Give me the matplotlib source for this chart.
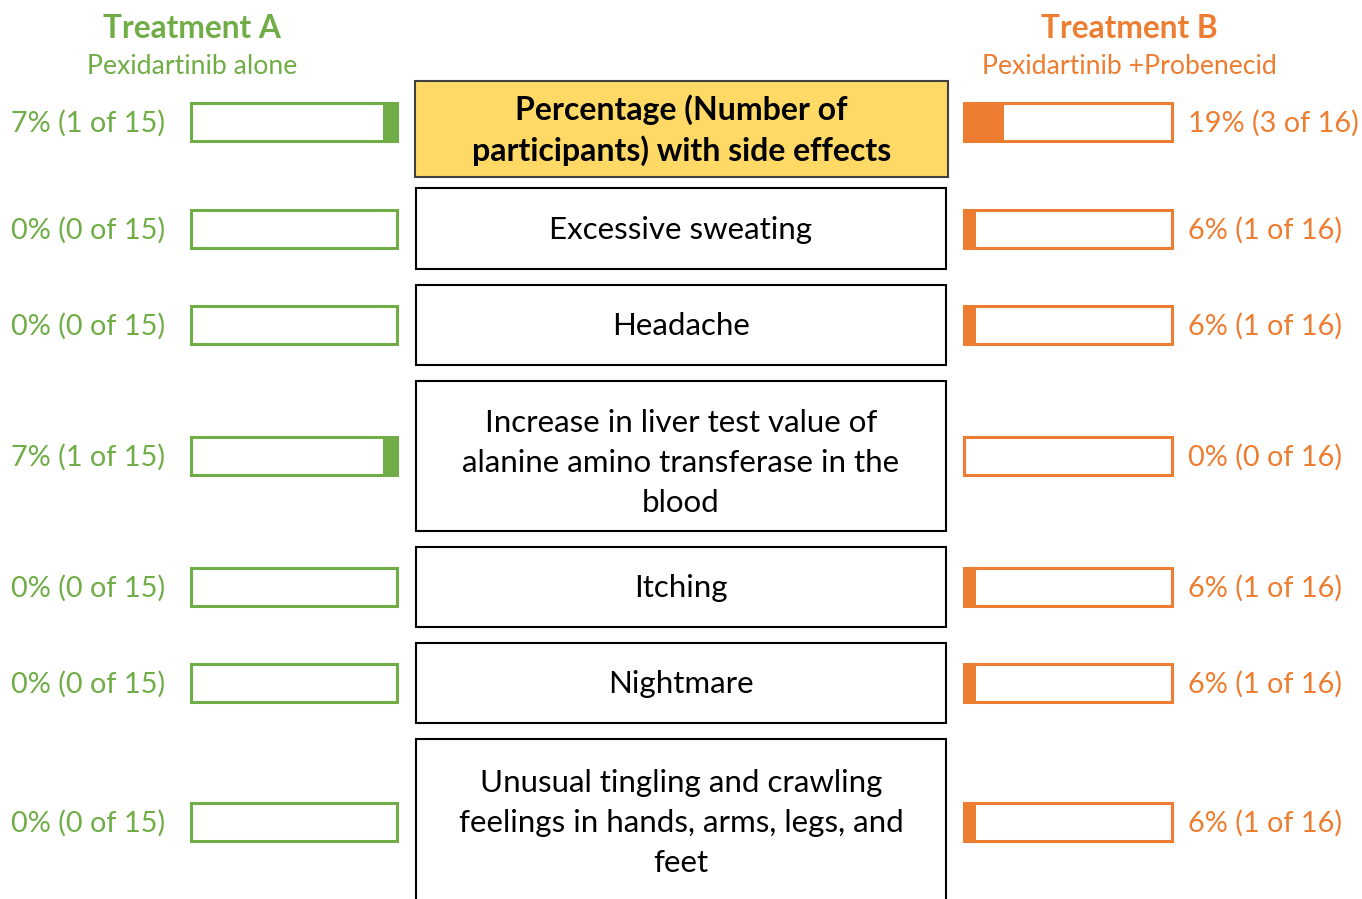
import matplotlib
matplotlib.use("Agg")
import matplotlib.pyplot as plt
from matplotlib.patches import Rectangle

plt.rcParams['font.family'] = ['Lato', 'DejaVu Sans']

# ---- data ----
categories = [
    "Percentage (Number of\nparticipants) with side effects",
    "Excessive sweating",
    "Headache",
    "Increase in liver test value of\nalanine amino transferase in the\nblood",
    "Itching",
    "Nightmare",
    "Unusual tingling and crawling\nfeelings in hands, arms, legs, and\nfeet",
]
a_pct = [7, 0, 0, 7, 0, 0, 0]
a_count = [1, 0, 0, 1, 0, 0, 0]
a_total = 15
b_pct = [19, 6, 6, 0, 6, 6, 6]
b_count = [3, 1, 1, 0, 1, 1, 1]
b_total = 16
a_title = "Treatment A"
a_sub = "Pexidartinib alone"
b_title = "Treatment B"
b_sub = "Pexidartinib +Probenecid"

# ---- layout (pixels) ----
W, H = 1362, 899
GREEN = "#70AD47"
ORANGE = "#ED7D31"
YELLOW = "#FFD966"
row_y = [122, 229, 325, 456, 587, 683, 822]
text_y = [130, 230, 326, 463, 588, 684, 823]
box_top = [81, 188, 285, 381, 547, 643, 739]
box_bot = [177, 269, 365, 531, 627, 723, 905]
FS_BODY = 22.5
FS_HEAD = 23
FS_LBL = 20.8
FS_TITLE = 22.8
FS_SUB = 19.2

fig = plt.figure(figsize=(W / 100, H / 100), dpi=100)
ax = fig.add_axes([0, 0, 1, 1])
ax.set_xlim(0, W)
ax.set_ylim(H, 0)
ax.axis("off")

# central category boxes
for i, cat in enumerate(categories):
    if i == 0:
        x0, x1 = 415, 948
        fc, ec, wt, fs, ls = YELLOW, "#404040", "bold", FS_HEAD, 1.38
    else:
        x0, x1 = 416, 946
        fc, ec, wt, fs, ls = "white", "black", "normal", FS_BODY, 1.53
    ax.add_patch(Rectangle((x0, box_top[i]), x1 - x0, box_bot[i] - box_top[i],
                           facecolor=fc, edgecolor=ec, lw=1.5, clip_on=False))
    ax.text((x0 + x1) / 2, text_y[i], cat, ha="center", va="center", fontsize=fs,
            fontweight=wt, color="black", linespacing=ls)

# headings
ax.text(192, 29, a_title, ha="center", va="center", fontsize=FS_TITLE, fontweight="bold", color=GREEN)
ax.text(192, 67, a_sub, ha="center", va="center", fontsize=FS_SUB, color=GREEN)
ax.text(1129, 29, b_title, ha="center", va="center", fontsize=FS_TITLE, fontweight="bold", color=ORANGE)
ax.text(1129, 67, b_sub, ha="center", va="center", fontsize=FS_SUB, color=ORANGE)

# value labels
for i in range(len(categories)):
    ax.text(165, row_y[i] + 1, f"{a_pct[i]}% ({a_count[i]} of {a_total})", ha="right",
            va="center", fontsize=FS_LBL, color=GREEN)
    ax.text(1188, row_y[i] + 1, f"{b_pct[i]}% ({b_count[i]} of {b_total})", ha="left",
            va="center", fontsize=FS_LBL, color=ORANGE)

# bar axes
BAR_H = 38
axa = fig.add_axes([191 / W, 0, 206 / W, 1])
axa.set_xlim(100, 0)
axa.set_ylim(H, 0)
axa.axis("off")
axa.barh(row_y, [100] * len(row_y), height=BAR_H, facecolor="white", edgecolor=GREEN,
         lw=2.2, clip_on=False)
axa.barh(row_y, a_pct, height=BAR_H, color=GREEN, lw=0, clip_on=False)

axb = fig.add_axes([964 / W, 0, 208 / W, 1])
axb.set_xlim(0, 100)
axb.set_ylim(H, 0)
axb.axis("off")
axb.barh(row_y, [100] * len(row_y), height=BAR_H, facecolor="white", edgecolor=ORANGE,
         lw=2.2, clip_on=False)
axb.barh(row_y, b_pct, height=BAR_H, color=ORANGE, lw=0, clip_on=False)

fig.savefig("out.png", dpi=100)
